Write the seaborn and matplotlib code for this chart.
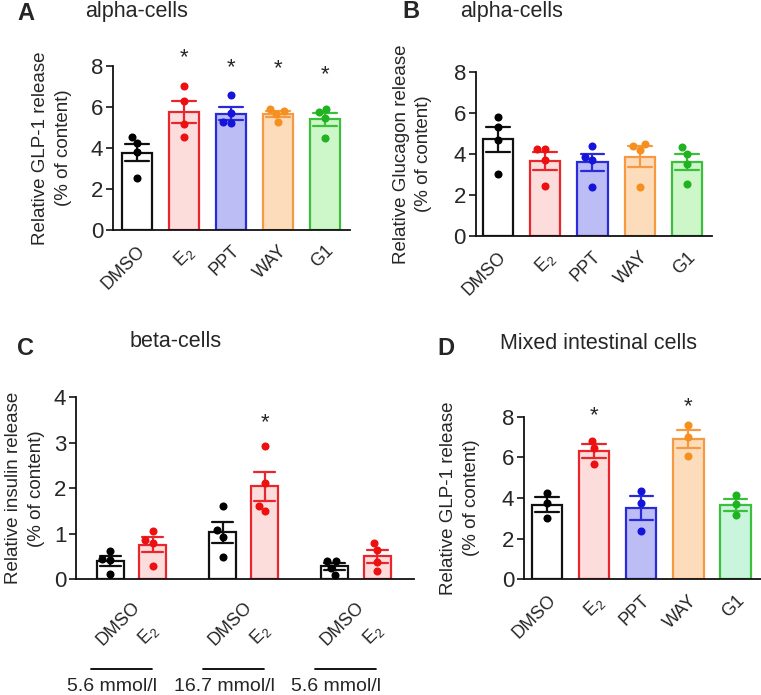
import numpy as np
import pandas as pd
import matplotlib
matplotlib.use("Agg")
import matplotlib.pyplot as plt
import seaborn as sns
from matplotlib.transforms import blended_transform_factory

# ---------------- data ----------------
treatments = ["DMSO", "E$_2$", "PPT", "WAY", "G1"]

# Panel A: alpha-cells, relative GLP-1 release (% of content)
a_values = [
    [4.54, 4.23, 3.79, 2.55],
    [7.04, 6.29, 5.17, 4.54],
    [6.60, 5.69, 5.25, 5.20],
    [5.93, 5.82, 5.66, 5.28],
    [5.93, 5.74, 5.48, 4.50],
]
a_stars = [None, 8.42, 7.93, 7.89, 7.60]

# Panel B: alpha-cells, relative glucagon release
b_values = [
    [5.81, 5.32, 4.68, 3.02],
    [4.24, 4.24, 3.70, 2.44],
    [4.40, 3.86, 3.70, 2.37],
    [4.48, 4.40, 4.19, 2.40],
    [4.32, 3.99, 3.50, 2.53],
]

# Panel C: beta-cells, relative insulin release
c_labels = ["DMSO", "E$_2$", "DMSO", "E$_2$", "DMSO", "E$_2$"]
c_conditions = ["5.6 mmol/l", "16.7 mmol/l", "5.6 mmol/l"]
c_values = [
    [0.62, 0.45, 0.42, 0.11],
    [1.07, 0.87, 0.80, 0.30],
    [1.62, 1.08, 0.94, 0.48],
    [2.93, 2.12, 1.62, 1.50],
    [0.40, 0.40, 0.25, 0.09],
    [0.80, 0.64, 0.38, 0.19],
]
c_stars = [None, None, None, 3.44, None, None]

# Panel D: mixed intestinal cells, relative GLP-1 release
d_values = [
    [4.23, 3.77, 3.00],
    [6.82, 6.44, 5.67],
    [4.36, 3.74, 2.39],
    [7.59, 7.02, 6.07],
    [4.15, 3.70, 3.16],
]
d_stars = [None, 8.03, None, 8.49, None]

# ---------------- style ----------------
sns.set_style("ticks")
plt.rcParams["font.family"] = ["Liberation Sans", "DejaVu Sans"]
plt.rcParams["mathtext.fontset"] = "custom"
plt.rcParams["mathtext.rm"] = "Liberation Sans"
plt.rcParams["mathtext.it"] = "Liberation Sans:italic"
plt.rcParams["mathtext.bf"] = "Liberation Sans:bold"

EDGE5 = ["#111111", "#e8262d", "#2a2ad6", "#f59a42", "#3cbf3c"]
FILL5 = ["#ffffff", "#fddcdc", "#bdbdf6", "#fddcbc", "#cdf7c8"]
DOT5 = ["#000000", "#ec1010", "#1414dc", "#f5901e", "#1fb31f"]
FILL5_D = ["#ffffff", "#fddcdc", "#bdbdf6", "#fddcbc", "#c8f5dc"]

W, H = 761, 695
fig = plt.figure(figsize=(W / 100, H / 100), dpi=100)


def px_axes(l, t, r, b):
    return fig.add_axes([l / W, 1 - b / H, (r - l) / W, (b - t) / H])


def draw_panel(ax, positions, values, fills, edges, dots):
    for pos, vals, fc, ec, dc in zip(positions, values, fills, edges, dots):
        df = pd.DataFrame({"x": [pos] * len(vals), "y": vals})
        sns.barplot(data=df, x="x", y="y", native_scale=True, ax=ax,
                    color=fc, saturation=1, edgecolor=ec, linewidth=1.6,
                    width=0.64, errorbar="se", capsize=0.5,
                    err_kws={"color": ec, "linewidth": 1.6})
        sns.swarmplot(data=df, x="x", y="y", native_scale=True, ax=ax,
                      color=dc, size=5.8, linewidth=0, zorder=5)


def style_axes(ax, ymax, ylabel, label_x):
    sns.despine(ax=ax)
    for s in ("left", "bottom"):
        ax.spines[s].set_linewidth(1.3)
        ax.spines[s].set_color("#111111")
    ax.set_ylim(0, ymax)
    ax.set_yticks(np.arange(0, ymax + 0.1, 2 if ymax > 4 else 1))
    ax.tick_params(axis="y", direction="out", length=5, width=1.3,
                   labelsize=16, pad=2)
    ax.tick_params(axis="x", length=0)
    ax.set_xlabel("")
    ax.set_ylabel(ylabel, fontsize=13.5, linespacing=1.45)
    ax.yaxis.set_label_coords(label_x, 0.5)


def add_stars(ax, positions, stars):
    for p, s in zip(positions, stars):
        if s is not None:
            ax.text(p, s, "*", ha="center", va="center", fontsize=16,
                    clip_on=False)


pos5 = np.arange(len(treatments))

# ---- Panel A ----
axA = px_axes(113, 66.3, 350, 229.7)
draw_panel(axA, pos5, a_values, FILL5, EDGE5, DOT5)
style_axes(axA, 8, "Relative GLP-1 release\n(% of content)", -0.175)
axA.set_xlim(-0.51, 4.53)
axA.set_xticks(pos5)
axA.set_xticklabels(treatments, rotation=45, ha="right",
                    rotation_mode="anchor", fontsize=13)
axA.tick_params(axis="x", pad=9)
add_stars(axA, pos5, a_stars)

# ---- Panel B ----
axB = px_axes(475.7, 71.7, 712, 236)
draw_panel(axB, pos5, b_values, FILL5, EDGE5, DOT5)
style_axes(axB, 8, "Relative Glucagon release\n(% of content)", -0.183)
axB.set_xlim(-0.47, 4.53)
axB.set_xticks(pos5)
axB.set_xticklabels(treatments, rotation=45, ha="right",
                    rotation_mode="anchor", fontsize=13)
axB.tick_params(axis="x", pad=9)

# ---- Panel C ----
axC = px_axes(76, 397.3, 414, 579.3)
group_gap = 2.65
c_pos = []
for g in range(3):
    c_pos += [g * group_gap, g * group_gap + 1]
c_pos = np.array(c_pos)
C_EDGE = [EDGE5[0], EDGE5[1]] * 3
C_FILL = [FILL5[0], FILL5[1]] * 3
C_DOT = [DOT5[0], DOT5[1]] * 3
draw_panel(axC, c_pos, c_values, C_FILL, C_EDGE, C_DOT)
style_axes(axC, 4, "Relative insulin release\n(% of content)", -0.092)
axC.set_xlim(-0.81, c_pos[-1] + 0.87)
axC.set_xticks([])
add_stars(axC, c_pos, c_stars)
trC = blended_transform_factory(axC.transData, axC.transAxes)
for i, (p, lab) in enumerate(zip(c_pos, c_labels)):
    off = 0.19 if i % 2 == 0 else -0.1
    axC.text(p + off, -0.383, lab, rotation=45, ha="center", va="bottom",
             fontsize=13, transform=trC, clip_on=False)
for g, cond in enumerate(c_conditions):
    start = c_pos[2 * g]
    axC.plot([start - 0.46, start + 0.98], [-0.493, -0.493], color="black",
             lw=1.3, transform=trC, clip_on=False)
    axC.text(start + 0.04, -0.614, cond, ha="center", va="baseline",
             fontsize=14, transform=trC, clip_on=False)

# ---- Panel D ----
axD = px_axes(524, 416.7, 761, 579.3)
draw_panel(axD, pos5, d_values, FILL5_D, EDGE5, DOT5)
style_axes(axD, 8, "Relative GLP-1 release\n(% of content)", -0.186)
axD.set_xlim(-0.49, 4.54)
axD.set_xticks(pos5)
axD.set_xticklabels(treatments, rotation=45, ha="right",
                    rotation_mode="anchor", fontsize=13)
axD.tick_params(axis="x", pad=9)
add_stars(axD, pos5, d_stars)

# ---- letters and titles ----
def ftext(x, y, s, **kw):
    fig.text(x / W, 1 - y / H, s, **kw)

for x, y, s in [(17, 20, "A"), (402, 18.5, "B"), (17, 355, "C"), (437, 355, "D")]:
    ftext(x, y, s, fontsize=17, fontweight="bold", va="baseline", ha="left")
for x, y, s in [(85, 17.5, "alpha-cells"), (460, 17.5, "alpha-cells"),
                (130, 347, "beta-cells"), (500, 349, "Mixed intestinal cells")]:
    ftext(x, y, s, fontsize=15.5, va="baseline", ha="left")

fig.savefig("out.png", dpi=100)
